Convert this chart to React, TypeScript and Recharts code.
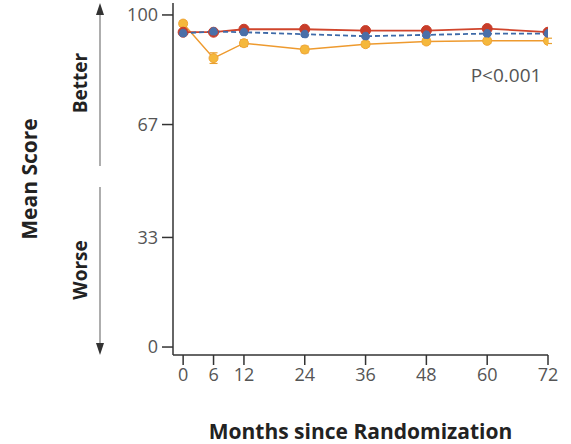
import React from "react";
import { LineChart, Line, XAxis, YAxis, ErrorBar, Label } from "recharts";

const months = [0, 6, 12, 24, 36, 48, 60, 72];
const redScores = [94.8, 94.8, 95.7, 95.7, 95.3, 95.3, 95.9, 94.8];
const blueScores = [94.5, 95.0, 94.8, 94.2, 93.6, 94.0, 94.4, 94.4];
const yellowScores = [97.4, 87.0, 91.5, 89.6, 91.2, 92.0, 92.2, 92.2];
const yellowErr = [0.8, 1.6, 1.0, 1.0, 0.8, 0.8, 0.8, 0.8];
const yTicks = [0, 33, 67, 100];
const xTicks = [0, 6, 12, 24, 36, 48, 60, 72];

const data = months.map((m, i) => ({
  month: m,
  red: redScores[i],
  blue: blueScores[i],
  yellow: yellowScores[i],
  yErr: yellowErr[i],
}));

const FONT = "'Open Sans', 'Liberation Sans', sans-serif";
const tickStyle = { fontSize: 18, fill: "#555", fontFamily: FONT };

export default function App() {
  return (
    <div style={{ position: "absolute", left: 0, top: 0, width: 571, height: 444, background: "#fff" }}>
      <LineChart
        width={571}
        height={444}
        data={data}
        margin={{ top: 3, right: 23, left: 0, bottom: 0 }}
      >
        <XAxis
          type="number"
          dataKey="month"
          domain={[-2, 72]}
          ticks={xTicks}
          allowDataOverflow
          height={89}
          tickSize={10}
          tickMargin={3}
          tick={tickStyle}
          stroke="#333"
          axisLine={{ stroke: "#333", strokeWidth: 1.5 }}
          tickLine={{ stroke: "#333", strokeWidth: 1.5 }}
        >
          <Label
            value="Months since Randomization"
            position="insideBottom"
            offset={5}
            style={{ fontSize: 21, fontWeight: "bold", fill: "#222", fontFamily: FONT }}
          />
        </XAxis>
        <YAxis
          type="number"
          domain={[-2.4, 103.6]}
          ticks={yTicks}
          allowDataOverflow
          width={173}
          tickSize={11}
          tickMargin={4}
          tick={tickStyle}
          stroke="#333"
          axisLine={{ stroke: "#333", strokeWidth: 1.5 }}
          tickLine={{ stroke: "#333", strokeWidth: 1.5 }}
        >
          <Label
            value="Mean Score"
            angle={-90}
            position="insideLeft"
            offset={30}
            style={{ fontSize: 21, fontWeight: "bold", fill: "#222", fontFamily: FONT, textAnchor: "middle" }}
          />
        </YAxis>
        <Line
          dataKey="yellow"
          stroke="#ee9a2e"
          strokeWidth={1.5}
          dot={{ r: 4.5, fill: "#f5b83c", stroke: "#f0a535", strokeWidth: 1 }}
          isAnimationActive={false}
        >
          <ErrorBar dataKey="yErr" width={4} stroke="#e8a030" strokeWidth={1.2} direction="y" />
        </Line>
        <Line
          dataKey="red"
          stroke="#d0452c"
          strokeWidth={1.8}
          dot={{ r: 5, fill: "#c83d2a", stroke: "#c83d2a", strokeWidth: 1 }}
          isAnimationActive={false}
        />
        <Line
          dataKey="blue"
          stroke="#3e6aa8"
          strokeWidth={1.8}
          strokeDasharray="5 3"
          dot={{ r: 4, fill: "#4a6fa8", stroke: "#4a6fa8", strokeWidth: 1 }}
          isAnimationActive={false}
        />
        <g>
          <line x1={100} y1={12} x2={100} y2={166} stroke="#777" strokeWidth={1.2} />
          <polygon points="100,3 96,15 104,15" fill="#333" />
          <line x1={100} y1={187} x2={100} y2={344} stroke="#777" strokeWidth={1.2} />
          <polygon points="100,355 96,343 104,343" fill="#333" />
          <text
            x={0}
            y={0}
            transform="translate(87,83) rotate(-90)"
            textAnchor="middle"
            style={{ fontSize: 19, fontWeight: "bold", fill: "#222", fontFamily: FONT }}
          >
            Better
          </text>
          <text
            x={0}
            y={0}
            transform="translate(87,270) rotate(-90)"
            textAnchor="middle"
            style={{ fontSize: 19, fontWeight: "bold", fill: "#222", fontFamily: FONT }}
          >
            Worse
          </text>
          <text
            x={506}
            y={82}
            textAnchor="middle"
            style={{ fontSize: 19, fill: "#555", fontFamily: FONT }}
          >
            P&lt;0.001
          </text>
        </g>
      </LineChart>
    </div>
  );
}
